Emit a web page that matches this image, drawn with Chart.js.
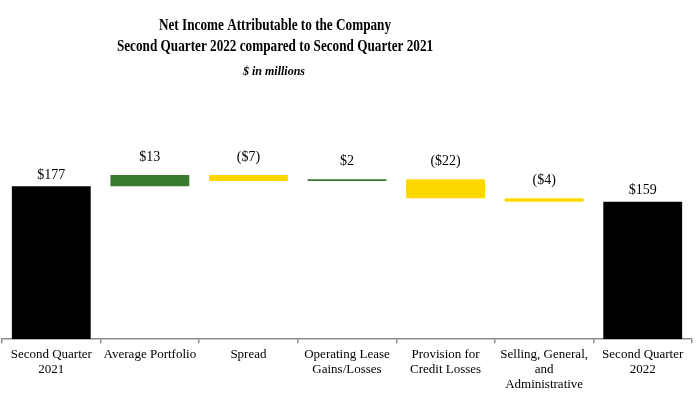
<!DOCTYPE html>
<html>
<head>
<meta charset="utf-8">
<script src="https://cdn.jsdelivr.net/npm/chart.js@4/dist/chart.umd.min.js"></script>
<style>
  html, body { margin: 0; padding: 0; background: #fff; }
  #wrap { width: 699px; height: 396px; position: relative; }
</style>
</head>
<body>
<div id="wrap"><canvas id="chart"></canvas></div>
<script>
const categories = [
    ["Second Quarter", "2021"],
    "Average Portfolio",
    "Spread",
    ["Operating Lease", "Gains/Losses"],
    ["Provision for", "Credit Losses"],
    ["Selling, General,", "and", "Administrative"],
    ["Second Quarter", "2022"]
];
const startValue = 177;
const changes = [13, -7, 2, -22, -4];
const endValue = 159;
const valueLabels = ["$177", "$13", "($7)", "$2", "($22)", "($4)", "$159"];
const titleLines = ["Net Income Attributable to the Company", "Second Quarter 2022 compared to Second Quarter 2021"];
const subtitleText = "$ in millions";

// build floating bars for the waterfall
const bars = [[0, startValue]];
const colors = ["#000000"];
let running = startValue;
changes.forEach(c => {
    bars.push([running, running + c]);
    colors.push(c >= 0 ? "#3a7a2e" : "#ffd700");
    running += c;
});
bars.push([0, endValue]);
colors.push("#000000");

const titlePlugin = {
    id: "squeezedTitle",
    afterDraw(chart) {
        const ctx = chart.ctx;
        ctx.save();
        ctx.fillStyle = "#000";
        ctx.textAlign = "center";
        ctx.textBaseline = "alphabetic";
        ctx.font = "bold 16.5px 'Liberation Serif'";
        [29.5, 51].forEach((y, i) => {
            ctx.save();
            ctx.translate(275, y);
            ctx.scale(0.8, 1);
            ctx.fillText(titleLines[i], 0, 0);
            ctx.restore();
        });
        ctx.font = "italic bold 12px 'Liberation Serif'";
        ctx.fillText(subtitleText, 274, 75);
        ctx.restore();
    }
};

const valueLabelPlugin = {
    id: "valueLabels",
    afterDatasetsDraw(chart) {
        const ctx = chart.ctx;
        const meta = chart.getDatasetMeta(0);
        ctx.save();
        ctx.fillStyle = "#000";
        ctx.textAlign = "center";
        ctx.textBaseline = "middle";
        ctx.font = "14px 'Liberation Serif'";
        meta.data.forEach((bar, i) => {
            const top = Math.min(bar.y, bar.base);
            const isTotal = i === 0 || i === meta.data.length - 1;
            ctx.fillText(valueLabels[i], bar.x, top - (isTotal ? 11 : 18));
        });
        ctx.restore();
    }
};

new Chart(document.getElementById("chart"), {
    type: "bar",
    data: {
        labels: categories,
        datasets: [{
            data: bars,
            backgroundColor: colors,
            borderWidth: 0,
            barPercentage: 0.8,
            categoryPercentage: 1.0
        }]
    },
    options: {
        responsive: true,
        maintainAspectRatio: false,
        animation: false,
        layout: {
            padding: { top: 80, left: 2, right: 7, bottom: 0 }
        },
        plugins: {
            legend: { display: false },
            tooltip: { enabled: false }
        },
        scales: {
            x: {
                grid: {
                    offset: true,
                    drawOnChartArea: false,
                    drawTicks: true,
                    tickLength: 4,
                    color: "#8c8c8c",
                    lineWidth: 1.5
                },
                border: { display: true, color: "#8c8c8c", width: 1.5 },
                ticks: {
                    color: "#000",
                    padding: 4,
                    maxRotation: 0,
                    autoSkip: false,
                    font: { family: "Liberation Serif", size: 13, lineHeight: 1.15 }
                }
            },
            y: {
                display: false,
                min: 0,
                max: 300
            }
        }
    },
    plugins: [titlePlugin, valueLabelPlugin]
});
</script>
</body>
</html>
